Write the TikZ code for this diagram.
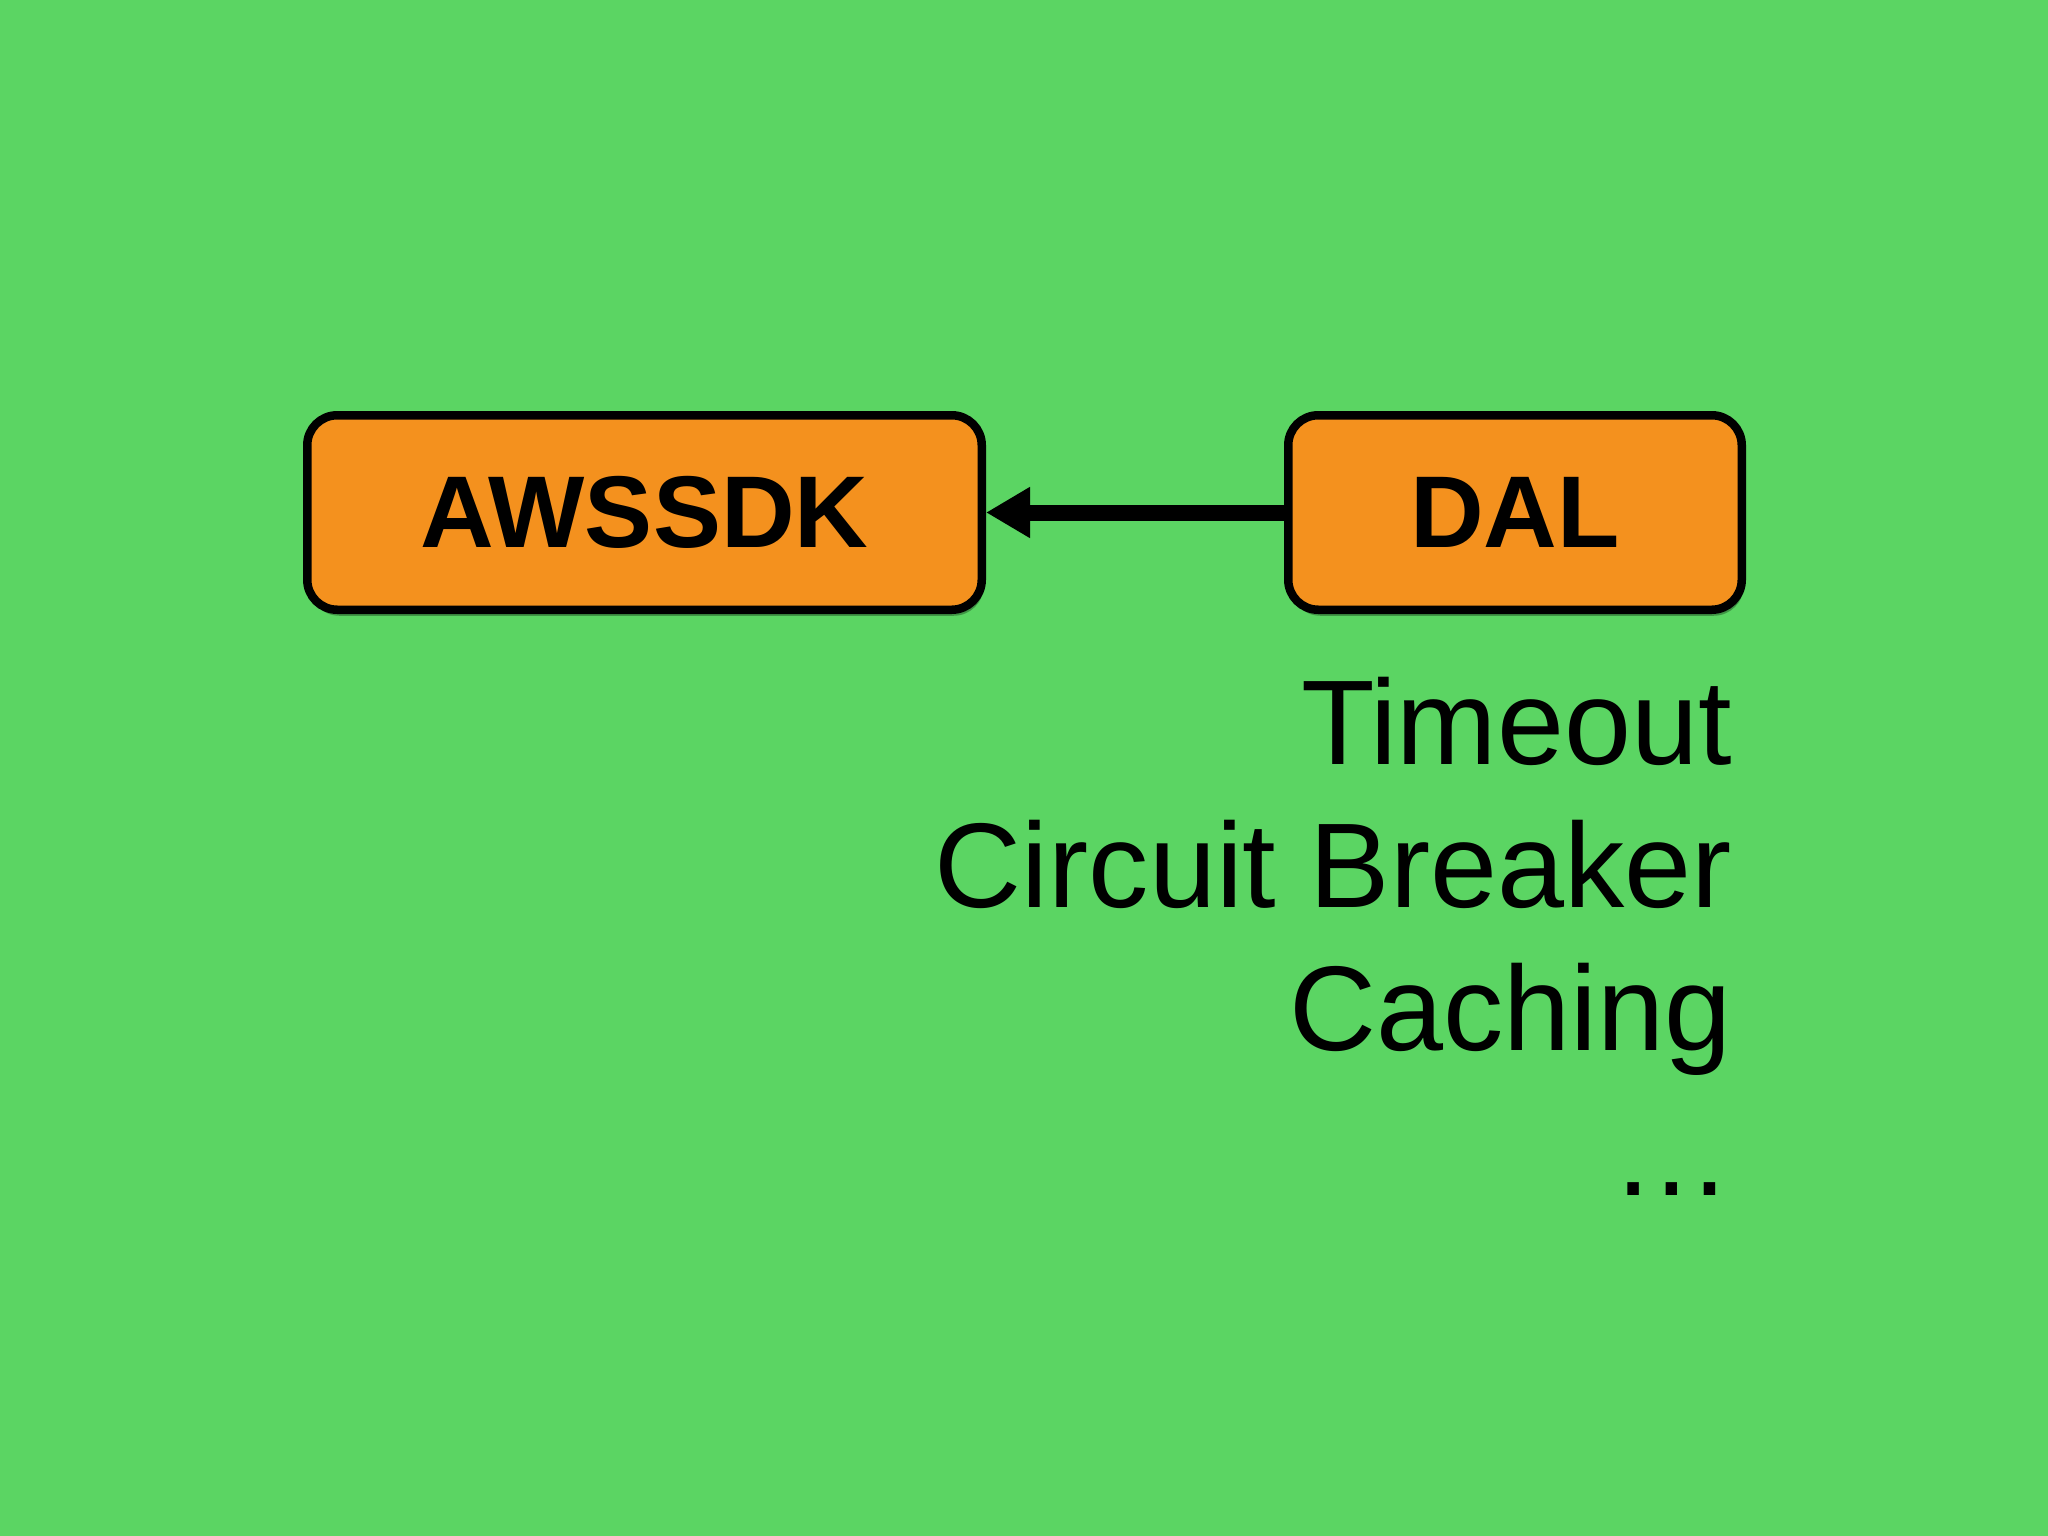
\documentclass[tikz,border=0pt]{standalone}
\usepackage{fontspec}
\setmainfont{Liberation Sans}
\usetikzlibrary{arrows.meta,shadows}
\definecolor{bggreen}{RGB}{91,213,99}
\definecolor{boxorange}{RGB}{244,145,30}
\tikzset{
  compbox/.style={draw=black, fill=boxorange, line width=8.5pt, rounded corners=30pt,
    inner sep=0pt, minimum height=194.5pt, align=center,
    font=\fontsize{102}{122}\selectfont\bfseries,
    drop shadow={shadow xshift=2pt, shadow yshift=-6pt, opacity=0.3, fill=black}},
  feature/.style={anchor=base east, inner sep=0pt, font=\fontsize{120.5}{145}\selectfont},
  deparrow/.style={draw=black, line width=16pt, -{Triangle[length=44pt,width=48pt]}}
}
\begin{document}
\begin{tikzpicture}[x=1pt,y=-1pt]
  \fill[bggreen] (0,0) rectangle (2048,1536);
  \useasboundingbox (0,0) rectangle (2048,1536);
  \node[compbox, minimum width=674.5pt] (aws) at (644.5,512.5) {AWSSDK};
  \node[compbox, minimum width=453.5pt] (dal) at (1515,512.5) {DAL};
  \draw[deparrow] (dal.west) -- (aws.east);
  \node[feature] (t1) at (1732,764) {Timeout};
  \node[feature] (t2) at (1732,907.5) {Circuit Breaker};
  \node[feature] (t3) at (1732,1050) {Caching};
  \node[feature] (t4) at (1732,1195) {…};
\end{tikzpicture}
\end{document}
